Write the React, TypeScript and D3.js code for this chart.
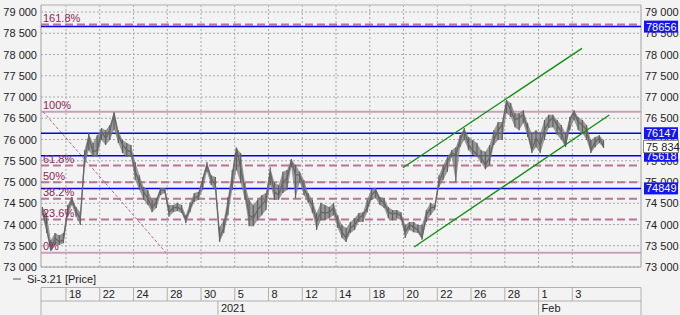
import React from "react";
import * as d3 from "d3";

const W = 680;
const H = 315;

// ---- data ----
const priceTicks = [73000, 73500, 74000, 74500, 75000, 75500, 76000, 76500, 77000, 77500, 78000, 78500, 79000];
const startDay = -1.4;
const barStep = 0.25;
const closes = [
  74340, 73920, 73400, 73680, 73590, 73640, 74340, 74600, 74290, 74150,
  75520, 76060, 75710, 75750, 76180, 76030, 76220, 76620, 76110, 75870,
  75750, 75710, 75240, 75000, 74770, 74620, 74390, 74530, 74810, 74810,
  74290, 74390, 74410, 74340, 74110, 74390, 74620, 74670, 75050, 75400,
  75090, 74930, 73680, 73920, 74460, 75090, 75800, 75330, 74810, 74220,
  74150, 74340, 74460, 74580, 75240, 74770, 74690, 75000, 75090, 75500,
  75170, 75170, 74860, 74620, 74460, 74060, 74290, 74270, 74290, 74390,
  74060, 73820, 73680, 73920, 73990, 74150, 74220, 74390, 74690, 74800,
  74580, 74510, 74290, 74250, 74270, 74200, 73820, 73990, 73940, 73870,
  73700, 74220, 74390, 74410, 75000, 75240, 75470, 75680, 75640, 75990,
  76220, 75870, 75750, 75640, 75570, 75400, 75570, 75990, 76220, 76340,
  76900, 76690, 76460, 76510, 76580, 76220, 75750, 76040, 75870, 76220,
  76410, 76510, 76340, 76180, 75850, 76460, 76650, 76410, 76340, 76220,
  75750, 75940, 76040, 75834,
];
const highs = [
  74410, 74270, 73635, 73800, 73750, 73800, 74460, 74650, 74410, 74290,
  75750, 76150, 75920, 76100, 76270, 76220, 76340, 76640, 76220, 75990,
  75920, 75870, 75470, 75160, 74880, 74810, 74580, 74620, 74860, 74860,
  74460, 74460, 74510, 74460, 74220, 74510, 74740, 74770, 75120, 75470,
  75160, 75120, 73940, 74100, 74650, 75280, 75800, 75680, 74980, 74580,
  74460, 74580, 74690, 74740, 75350, 74980, 74930, 75240, 75280, 75540,
  75400, 75240, 75050, 74740, 74580, 74270, 74510, 74460, 74410, 74510,
  74220, 73990, 73920, 74060, 74150, 74270, 74290, 74580, 74840, 74860,
  74650, 74620, 74410, 74340, 74340, 74290, 73990, 74060, 74060, 73990,
  73990, 74340, 74510, 74460, 75160, 75400, 75590, 75750, 75820, 76100,
  76270, 76060, 75990, 75920, 75750, 75710, 75870, 76220, 76410, 76410,
  76930, 76860, 76620, 76620, 76690, 76390, 76150, 76220, 76150, 76460,
  76580, 76580, 76460, 76340, 76150, 76530, 76690, 76530, 76460, 76340,
  75990, 76060, 76100, 75990,
];
const lows = [
  74220, 73800, 73380, 73520, 73520, 73560, 74180, 74460, 74180, 73990,
  75350, 75750, 75590, 75590, 75990, 75870, 75990, 76230, 75920, 75680,
  75590, 75590, 75050, 74810, 74580, 74460, 74290, 74390, 74690, 74740,
  74180, 74290, 74320, 74270, 74030, 74290, 74530, 74580, 74810, 75240,
  74930, 74810, 73590, 73800, 74220, 74810, 75280, 74980, 74580, 73960,
  73960, 74100, 74220, 74340, 74930, 74580, 74580, 74740, 74810, 75350,
  74620, 75000, 74690, 74510, 74270, 73870, 74100, 74100, 74150, 74220,
  73920, 73680, 73590, 73800, 73870, 74060, 74060, 74290, 74580, 74620,
  74460, 74390, 74150, 74100, 74150, 74100, 73680, 73870, 73820, 73800,
  73640, 74060, 74220, 74340, 74880, 75050, 75240, 75590, 75000, 75820,
  75990, 75750, 75640, 75590, 75450, 75300, 75400, 75870, 75990, 75990,
  76620, 76530, 76290, 76220, 76390, 76060, 75680, 75820, 75680, 75990,
  76270, 76290, 76110, 75990, 75820, 76220, 76460, 76220, 76150, 75990,
  75680, 75820, 75920, 75800,
];
const lastPrice = 75834;
const dayTicks = [0, 2, 4, 6, 8, 10, 12, 14, 16, 18, 20, 22, 24, 26, 28, 30];
const dayLabels = ["18", "22", "24", "28", "30", "5", "8", "12", "14", "18", "20", "22", "26", "28", "1", "3"];
const periodStarts = [9, 28];
const periodLabels = ["2021", "Feb"];
const dayDomain = [-1.48, 34.07];
const priceDomain = [73000, 79000];
const fibLow = 73336;
const fibHigh = 76654;
const fibRatios = [0, 0.236, 0.382, 0.5, 0.618, 1, 1.618];
const fibLabels = ["0%", "23.6%", "38.2%", "50%", "61.8%", "100%", "161.8%"];
const fibTrendDays = [-1.36, 5.93];
const levelLines = [78656, 76147, 75618, 74849];
const channelUpperDays = [19.96, 30.57];
const channelUpperPrices = [75336, 78146];
const channelLowerDays = [20.63, 32.19];
const channelLowerPrices = [73470, 76576];
const seriesName = "Si-3.21 [Price]";

const FONT = "'Liberation Sans', Arial, sans-serif";

function fmt(v: number) {
  const s = String(v);
  return s.slice(0, s.length - 3) + " " + s.slice(-3);
}

export default function App() {
  const L = 41, R = 641, T = 5, B = 267;
  const x = d3.scaleLinear().domain(dayDomain).range([L, R]);
  const y = d3.scaleLinear().domain(priceDomain).range([B, 12]);
  const dx = (i: number) => x(startDay + i * barStep);

  const line = d3
    .line<number>()
    .x((_, i) => dx(i))
    .y((d) => y(d));
  const band = d3
    .area<number>()
    .x((_, i) => dx(i))
    .y0((_, i) => y(lows[i]))
    .y1((_, i) => y(highs[i]));

  const fibColor = "#b97499";
  const fibSolid = "#c9a0b8";
  const labelColor = "#8e2458";

  return (
    <div>
      <style>{`body{margin:0;background:#f3f3f3}`}</style>
      <svg width={W} height={H} style={{ display: "block", fontFamily: FONT }}>
        <rect x={0} y={0} width={W} height={H} fill="#f3f3f3" />
        {/* grid */}
        {priceTicks.map((p) => (
          <line key={"h" + p} x1={L} x2={R} y1={y(p)} y2={y(p)} stroke="#a9a9a9" strokeDasharray="2,2" />
        ))}
        {dayTicks.map((d) => (
          <line key={"v" + d} x1={x(d)} x2={x(d)} y1={T} y2={B} stroke="#a9a9a9" strokeDasharray="2,2" />
        ))}
        {/* frame */}
        <line x1={L} x2={R} y1={T} y2={T} stroke="#c4c4c4" strokeWidth={1.5} />
        <line x1={L} x2={L} y1={T} y2={B} stroke="#a0a0a0" />
        <line x1={R} x2={R} y1={T} y2={B} stroke="#a0a0a0" />
        <line x1={L} x2={R} y1={B} y2={B} stroke="#a0a0a0" />
        {/* fib levels */}
        {fibRatios.map((r, i) => {
          const p = fibLow + r * (fibHigh - fibLow);
          const solid = r === 0 || r === 1;
          return (
            <line
              key={"f" + i}
              x1={L}
              x2={R}
              y1={y(p)}
              y2={y(p)}
              stroke={solid ? fibSolid : fibColor}
              strokeWidth={2}
              strokeDasharray={solid ? undefined : "8,4"}
            />
          );
        })}
        <line
          x1={x(fibTrendDays[0])}
          y1={y(fibHigh)}
          x2={x(fibTrendDays[1])}
          y2={y(fibLow)}
          stroke="#b5668f"
          strokeWidth={1}
          strokeDasharray="3,2"
        />
        {/* level lines */}
        {levelLines.map((p) => (
          <line key={"l" + p} x1={L} x2={R} y1={y(p)} y2={y(p)} stroke="#0000f0" strokeWidth={1.5} />
        ))}
        {/* price */}
        <path d={band(closes) || ""} fill="#7a7a7a" opacity={0.75} />
        {closes.map((c, i) => (
          <line key={"bar" + i} x1={dx(i)} x2={dx(i)} y1={y(highs[i])} y2={y(lows[i])} stroke="#606060" strokeWidth={1.2} />
        ))}
        <path d={line(closes) || ""} fill="none" stroke="#666" strokeWidth={1.3} strokeLinejoin="round" />
        {/* channel */}
        <line
          x1={x(channelUpperDays[0])}
          y1={y(channelUpperPrices[0])}
          x2={x(channelUpperDays[1])}
          y2={y(channelUpperPrices[1])}
          stroke="#119111"
          strokeWidth={1.4}
        />
        <line
          x1={x(channelLowerDays[0])}
          y1={y(channelLowerPrices[0])}
          x2={x(channelLowerDays[1])}
          y2={y(channelLowerPrices[1])}
          stroke="#119111"
          strokeWidth={1.4}
        />
        {/* fib labels */}
        {fibRatios.map((r, i) => {
          const p = fibLow + r * (fibHigh - fibLow);
          return (
            <text key={"fl" + i} x={43} y={y(p) - 2.5} fontSize={11} fill={labelColor}>
              {fibLabels[i]}
            </text>
          );
        })}
        {/* y axis labels */}
        {priceTicks.map((p) => (
          <g key={"yl" + p}>
            <text x={37} y={y(p) + 4} fontSize={11} textAnchor="end" fill="#222">
              {fmt(p)}
            </text>
            <text x={645} y={y(p) + 4} fontSize={11} fill="#222">
              {fmt(p)}
            </text>
          </g>
        ))}
        {/* right boxes */}
        {levelLines.map((p) => (
          <g key={"b" + p}>
            <rect x={644} y={y(p) - 6} width={34} height={12} fill="#1414f5" />
            <text x={646} y={y(p) + 4} fontSize={11} fill="#fff">
              {p}
            </text>
          </g>
        ))}
        <rect x={643.5} y={y(lastPrice) - 6} width={35} height={12} fill="#fff" stroke="#888" />
        <text x={646} y={y(lastPrice) + 4} fontSize={11} fill="#222">
          {fmt(lastPrice)}
        </text>
        {/* legend */}
        <line x1={13} x2={21} y1={279} y2={279} stroke="#555" />
        <text x={27} y={283} fontSize={11} fill="#222">
          {seriesName}
        </text>
        {/* date table */}
        <line x1={L} x2={R} y1={287.5} y2={287.5} stroke="#b0b0b0" />
        <line x1={L} x2={R} y1={301} y2={301} stroke="#b0b0b0" />
        <line x1={L} x2={L} y1={287.5} y2={315} stroke="#b0b0b0" />
        <line x1={R} x2={R} y1={287.5} y2={315} stroke="#b0b0b0" />
        {dayTicks.map((d, i) => (
          <g key={"dt" + d}>
            <line x1={x(d)} x2={x(d)} y1={287.5} y2={301} stroke="#b0b0b0" />
            <text x={x(d) + 3} y={298} fontSize={11} fill="#222">
              {dayLabels[i]}
            </text>
          </g>
        ))}
        {periodStarts.map((d, i) => (
          <g key={"ps" + d}>
            <line x1={x(d)} x2={x(d)} y1={301} y2={315} stroke="#b0b0b0" />
            <text x={x(d) + 3} y={312} fontSize={11} fill="#222">
              {periodLabels[i]}
            </text>
          </g>
        ))}
      </svg>
    </div>
  );
}
